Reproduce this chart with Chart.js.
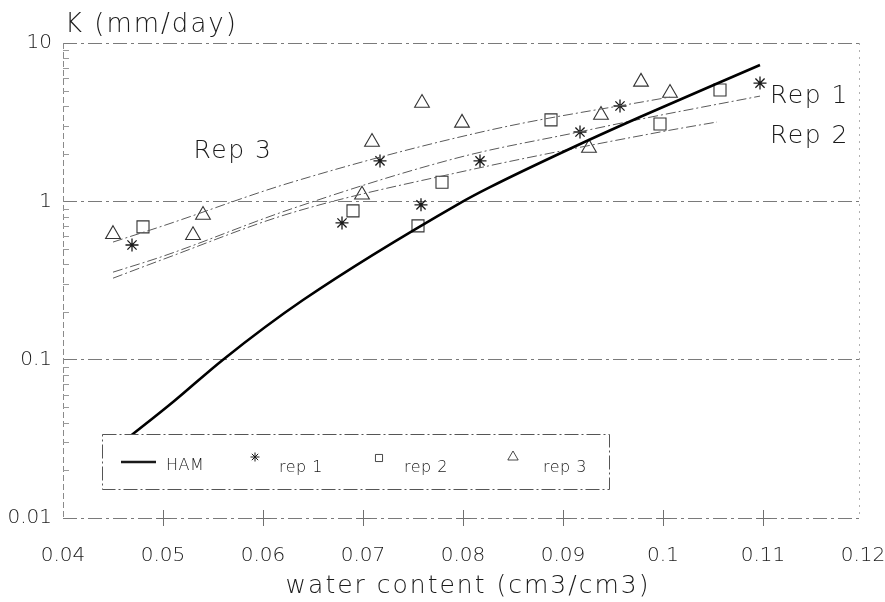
<!DOCTYPE html>
<html>
<head>
<meta charset="utf-8">
<script src="https://cdn.jsdelivr.net/npm/chart.js@4.4.1/dist/chart.umd.min.js"></script>
<style>
  html, body { margin: 0; padding: 0; background: #fff; }
  #wrap { width: 885px; height: 602px; }
</style>
</head>
<body>
<div id="wrap"><canvas id="c" width="885" height="602"></canvas></div>
<script>
// Axis ticks
const xTickValues = [0.04, 0.05, 0.06, 0.07, 0.08, 0.09, 0.10, 0.11, 0.12];
const xTickLabels = ['0.04', '0.05', '0.06', '0.07', '0.08', '0.09', '0.1', '0.11', '0.12'];
const yTickValues = [0.01, 0.1, 1, 10];
const yTickLabels = ['0.01', '0.1', '1', '10'];

// HAM model curve: water content (cm3/cm3) vs K (mm/day)
const hamTheta = [0.0465, 0.051, 0.056, 0.064, 0.0797, 0.0827, 0.0907, 0.0977, 0.1097];
const hamK     = [0.032, 0.054, 0.10, 0.238, 0.975, 1.23, 2.15, 3.41, 7.26];

// Fitted curves per replicate
const rep1FitTheta = [0.045, 0.050, 0.0627, 0.0797, 0.0917, 0.0977, 0.1097];
const rep1FitK     = [0.357, 0.45, 0.89, 1.9, 2.75, 3.3, 4.62];
const rep2FitTheta = [0.045, 0.050, 0.0627, 0.0797, 0.0997, 0.1054];
const rep2FitK     = [0.327, 0.43, 0.84, 1.53, 2.74, 3.17];
const rep3FitTheta = [0.045, 0.050, 0.0627, 0.0827, 0.1007];
const rep3FitK     = [0.553, 0.70, 1.31, 2.82, 4.56];

// Measured values per replicate
const rep1Theta = [0.0469, 0.0679, 0.0717, 0.0758, 0.0817, 0.0917, 0.0957, 0.1097];
const rep1K     = [0.53, 0.73, 1.80, 0.95, 1.80, 2.74, 4.0, 5.58];
const rep2Theta = [0.048, 0.069, 0.0755, 0.0779, 0.0888, 0.0997, 0.1057];
const rep2K     = [0.69, 0.87, 0.70, 1.32, 3.27, 3.08, 5.05];
const rep3Theta = [0.045, 0.053, 0.054, 0.0699, 0.0709, 0.0759, 0.0799, 0.0926, 0.0938, 0.0978, 0.1007];
const rep3K     = [0.62, 0.61, 0.82, 1.10, 2.37, 4.18, 3.13, 2.17, 3.51, 5.68, 4.83];

// Curve labels placed in data space
const curveLabels = [
  { text: 'Rep 3', x: 0.057, y: 2.05, align: 'center' },
  { text: 'Rep 1', x: 0.1107, y: 4.56, align: 'left' },
  { text: 'Rep 2', x: 0.1107, y: 2.55, align: 'left' }
];

const FONT = "'DejaVu Sans', 'Liberation Sans', sans-serif";
const WEIGHT = '200';
const INK = '#1a1a1a';
const FIT_DASH = [10, 3, 2, 3];

function pts(xs, ys) { return xs.map((x, i) => ({ x: x, y: ys[i] })); }

function drawText(ctx, s, x, y, size, align, baseline, spacing) {
  ctx.save();
  ctx.font = WEIGHT + ' ' + size + 'px ' + FONT;
  ctx.fillStyle = INK;
  ctx.textAlign = align;
  ctx.textBaseline = baseline;
  if ('letterSpacing' in ctx) ctx.letterSpacing = spacing + 'px';
  ctx.fillText(s, x, y);
  ctx.restore();
}

function marker(ctx, style, r, x, y, lw) {
  ctx.save();
  ctx.strokeStyle = INK;
  ctx.fillStyle = 'rgba(0,0,0,0)';
  ctx.lineWidth = lw;
  Chart.helpers.drawPoint(ctx, { pointStyle: style, radius: r, rotation: 0, borderWidth: lw }, x, y);
  ctx.restore();
}

// Frame pieces: dashed left axis, dotted right edge, minor ticks, "+" ticks on the bottom axis
const framePlugin = {
  id: 'frame',
  beforeDatasetsDraw(chart) {
    const { ctx, chartArea: a, scales } = chart;
    ctx.save();
    ctx.lineWidth = 1;
    ctx.strokeStyle = '#8a8a8a';
    ctx.setLineDash([6, 3]);
    ctx.beginPath();
    ctx.moveTo(a.left + 0.5, a.top);
    ctx.lineTo(a.left + 0.5, a.bottom);
    ctx.stroke();
    ctx.strokeStyle = '#b0b0b0';
    ctx.setLineDash([2, 5]);
    ctx.beginPath();
    ctx.moveTo(a.right - 3.5, a.top);
    ctx.lineTo(a.right - 3.5, a.bottom);
    ctx.stroke();
    // minor log ticks on the left axis
    ctx.setLineDash([]);
    ctx.strokeStyle = '#9a9a9a';
    for (let d = 0; d < 3; d++) {
      for (let m = 2; m <= 9; m++) {
        const v = m * yTickValues[d];
        const py = Math.round(scales.y.getPixelForValue(v)) + 0.5;
        ctx.beginPath();
        ctx.moveTo(a.left, py);
        ctx.lineTo(a.left + 6, py);
        ctx.stroke();
      }
    }
    // crosses on the bottom axis
    ctx.strokeStyle = '#707070';
    const yb = scales.y.getPixelForValue(yTickValues[0]);
    for (let i = 1; i < xTickValues.length - 1; i++) {
      const px = Math.round(scales.x.getPixelForValue(xTickValues[i])) + 0.5;
      ctx.beginPath();
      ctx.moveTo(px, yb - 8);
      ctx.lineTo(px, yb + 8);
      ctx.moveTo(px - 7, yb + 0.5);
      ctx.lineTo(px + 7, yb + 0.5);
      ctx.stroke();
    }
    ctx.restore();
  },
  afterDatasetsDraw(chart) {
    const { ctx, chartArea: a, scales } = chart;
    // curve labels
    curveLabels.forEach(l => {
      drawText(ctx, l.text, scales.x.getPixelForValue(l.x), scales.y.getPixelForValue(l.y),
        25, l.align, 'middle', 1.5);
    });
    // axis titles
    drawText(ctx, 'K (mm/day)', a.left + 2, 32, 26, 'left', 'alphabetic', 2);
    drawText(ctx, 'water content (cm3/cm3)', 468, 593, 25, 'center', 'alphabetic', 2);

    // legend box
    const L = a.left + 39, T = a.top + 391, W = 507, H = 55;
    ctx.save();
    ctx.fillStyle = '#fff';
    ctx.fillRect(L, T, W, H);
    ctx.strokeStyle = '#555';
    ctx.lineWidth = 1;
    ctx.setLineDash([14, 3, 2, 3]);
    ctx.strokeRect(L + 0.5, T + 0.5, W, H);
    ctx.setLineDash([]);
    ctx.strokeStyle = INK;
    ctx.lineWidth = 2.5;
    ctx.beginPath();
    ctx.moveTo(L + 19, T + 28);
    ctx.lineTo(L + 54, T + 28);
    ctx.stroke();
    ctx.restore();
    const ds = chart.data.datasets;
    drawText(ctx, ds[0].label, L + 64, T + 32, 16, 'left', 'middle', 0.5);
    marker(ctx, 'star', 4.5, L + 153, T + 23, 1);
    drawText(ctx, ds[4].label, L + 177, T + 34, 16, 'left', 'middle', 0.5);
    marker(ctx, 'rect', 5, L + 277, T + 24, 0.8);
    drawText(ctx, ds[5].label, L + 302, T + 34, 16, 'left', 'middle', 0.5);
    marker(ctx, 'triangle', 6, L + 411, T + 23, 0.8);
    drawText(ctx, ds[6].label, L + 441, T + 34, 16, 'left', 'middle', 0.5);
  }
};

const fitStyle = {
  showLine: true, pointRadius: 0, borderColor: '#5a5a5a', borderWidth: 1,
  borderDash: FIT_DASH, tension: 0.4, cubicInterpolationMode: 'monotone'
};

new Chart(document.getElementById('c'), {
  type: 'scatter',
  data: {
    datasets: [
      { label: 'HAM', data: pts(hamTheta, hamK), showLine: true, pointRadius: 0,
        borderColor: '#000', borderWidth: 2.6, cubicInterpolationMode: 'monotone' },
      Object.assign({ label: 'Rep 1 fit', data: pts(rep1FitTheta, rep1FitK) }, fitStyle),
      Object.assign({ label: 'Rep 2 fit', data: pts(rep2FitTheta, rep2FitK) }, fitStyle),
      Object.assign({ label: 'Rep 3 fit', data: pts(rep3FitTheta, rep3FitK) }, fitStyle),
      { label: 'rep 1', data: pts(rep1Theta, rep1K), showLine: false, pointStyle: 'star',
        pointRadius: 6.5, borderColor: INK, pointBorderWidth: 1.3, backgroundColor: 'rgba(0,0,0,0)' },
      { label: 'rep 2', data: pts(rep2Theta, rep2K), showLine: false, pointStyle: 'rect',
        pointRadius: 8.5, borderColor: '#333', pointBorderWidth: 1.1, backgroundColor: 'rgba(0,0,0,0)' },
      { label: 'rep 3', data: pts(rep3Theta, rep3K), showLine: false, pointStyle: 'triangle',
        pointRadius: 8.5, borderColor: '#333', pointBorderWidth: 1.1, backgroundColor: 'rgba(0,0,0,0)' }
    ]
  },
  options: {
    responsive: false,
    devicePixelRatio: 1,
    animation: false,
    layout: { autoPadding: false, padding: { top: 43, right: 22, bottom: 0, left: 0 } },
    plugins: { legend: { display: false }, tooltip: { enabled: false } },
    scales: {
      x: {
        type: 'linear', min: xTickValues[0], max: xTickValues[xTickValues.length - 1],
        afterFit(s) { s.height = 84; s.paddingLeft = 0; s.paddingRight = 0; },
        afterBuildTicks(s) { s.ticks = xTickValues.map(v => ({ value: v })); },
        grid: { display: false },
        border: { display: false },
        ticks: {
          padding: 18, color: INK, font: { family: FONT, size: 20, weight: WEIGHT }, maxRotation: 0,
          callback: (v, i) => xTickLabels[i]
        }
      },
      y: {
        type: 'logarithmic', min: yTickValues[0], max: yTickValues[yTickValues.length - 1],
        afterFit(s) { s.width = 63; s.paddingTop = 0; s.paddingBottom = 0; },
        afterBuildTicks(s) { s.ticks = yTickValues.map(v => ({ value: v })); },
        grid: { color: '#7a7a7a', lineWidth: 1, drawTicks: false },
        border: { display: false, dash: [14, 4, 3, 4] },
        ticks: {
          padding: 11, color: INK, font: { family: FONT, size: 20, weight: WEIGHT },
          callback: (v, i) => yTickLabels[i]
        }
      }
    }
  },
  plugins: [framePlugin]
});
</script>
</body>
</html>
